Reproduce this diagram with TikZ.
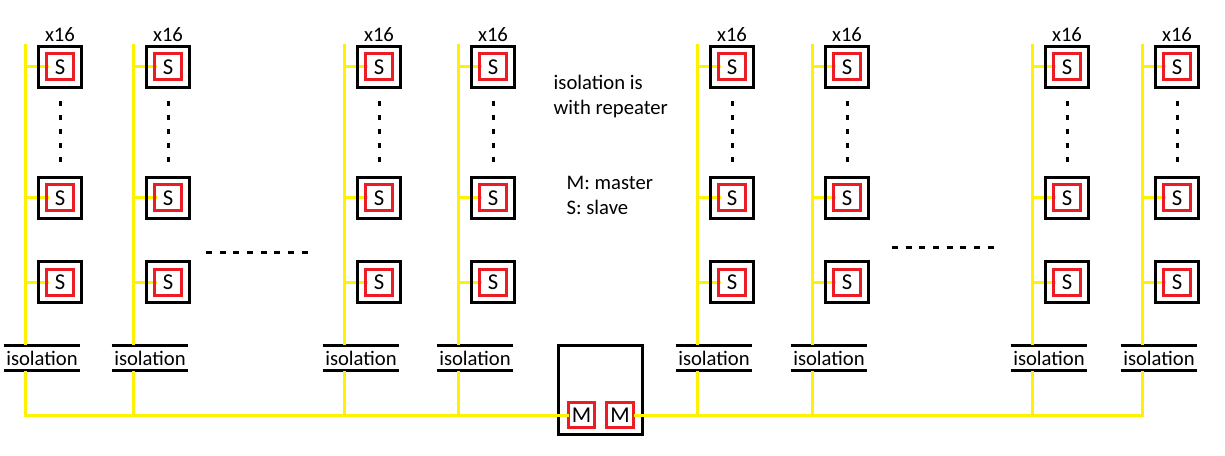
\documentclass[tikz,border=0pt]{standalone}
\usepackage{fontspec}
\setmainfont{Carlito}
\definecolor{busyellow}{RGB}{255,242,0}
\definecolor{slavered}{RGB}{237,28,36}
\begin{document}
\begin{tikzpicture}[x=0.75pt,y=0.75pt,yscale=-1,xscale=1,
  font=\fontsize{15.5}{18.75}\selectfont,
  bus/.style={draw=busyellow,line width=2.25pt},
  outerbox/.style={draw=black,line width=2.25pt,minimum width=32.25pt,minimum height=30.75pt,inner sep=0pt},
  innerbox/.style={draw=slavered,line width=2.25pt,minimum width=20.25pt,minimum height=19.5pt,inner sep=0pt,font=\fontsize{17}{20}\selectfont},
  isonode/.style={minimum width=57pt,minimum height=18.75pt,inner sep=0pt},
  isobar/.style={draw=black,line width=2.25pt},
  vdots/.style={line width=2.25pt,dash pattern={on 3.75pt off 6.75pt}},
  hdots/.style={line width=2.25pt,dash pattern={on 4.5pt off 5.75pt}}]
\useasboundingbox (0,0) rectangle (1225,456);

%Master box
\node[outerbox,minimum width=63pt,minimum height=66.75pt] (mbox) at (600.5,390) {};
\node[innerbox,minimum width=19.5pt,minimum height=18.75pt] (m1) at (581.5,415) {M};
\node[innerbox,minimum width=20.25pt,minimum height=18.75pt] (m2) at (620,415) {M};

%Branches
\foreach \i/\x in {1/25,2/133,3/344,4/458,5/697,6/812,7/1032,8/1142}{
  \coordinate (top\i) at (\x,44);
  \coordinate (bus\i) at (\x,415);
  % Isolation
  \node[isonode] (iso\i) at (\x+17,358) {isolation};
  \draw[isobar] (iso\i.north west) -- (iso\i.north east);
  \draw[isobar] (iso\i.south west) -- (iso\i.south east);
  \draw[bus] (top\i) -- (iso\i.north -| top\i);
  \draw[bus] (iso\i.south -| top\i) -- (bus\i);
  % Slaves
  \foreach \r/\y in {1/67,2/198,3/282}{
    \draw[bus] (\x,\y) -- (\x+24,\y);
    \node[outerbox] (o\i\r) at (\x+35,\y) {};
    \node[innerbox] (s\i\r) at (\x+35,\y) {S};
  }
  \draw[vdots] ([yshift=9pt]o\i1.south) -- ([yshift=-10pt]o\i2.north);
  % Text Node
  \node (n\i) at (\x+35,35) {x16};
}

%Bus
\draw[bus,line cap=rect] (bus1) -- (m1.west);
\draw[bus,line cap=rect] (m2.east) -- (bus8);

%Dots
\coordinate (dl1) at (206,253);
\coordinate (dl2) at (313,253);
\coordinate (dr1) at (892,248);
\coordinate (dr2) at (1000,248);
\draw[hdots] (dl1) -- (dl2);
\draw[hdots] (dr1) -- (dr2);

% Text Node
\node[anchor=west,align=left] (note1) at (549,96) {isolation is\\with repeater};
% Text Node
\node[anchor=west,align=left] (note2) at (562,195) {M: master\\S: slave};

\end{tikzpicture}
\end{document}
